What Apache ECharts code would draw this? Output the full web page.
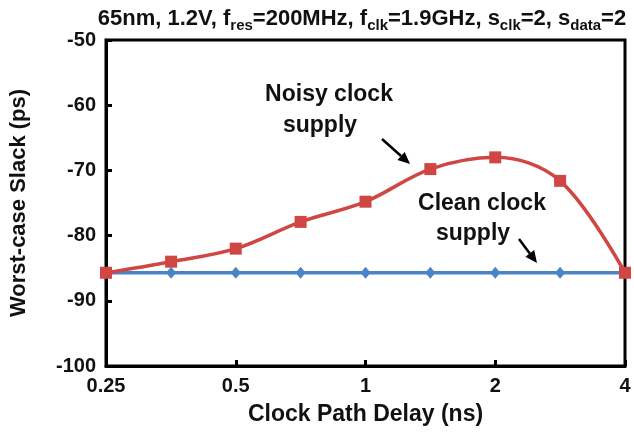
<!DOCTYPE html>
<html>
<head>
<meta charset="utf-8">
<script src="https://cdn.jsdelivr.net/npm/echarts@6/dist/echarts.min.js"></script>
<style>
  html, body { margin: 0; padding: 0; background: #fff; }
  #chart { width: 634px; height: 433px; }
</style>
</head>
<body>
<div id="chart"></div>
<script>
// Clock path delay (ns), half-octave steps on a base-2 log axis
const delays = [0.25, 0.354, 0.5, 0.707, 1, 1.414, 2, 2.828, 4];
// Worst-case slack (ps)
const noisySlack = [-85.7, -84.0, -82.0, -77.9, -74.8, -69.8, -68.0, -71.6, -85.7];
const cleanSlack = [-85.7, -85.7, -85.7, -85.7, -85.7, -85.7, -85.7, -85.7, -85.7];
// Axis ticks
const xTicks = [0.25, 0.5, 1, 2, 4];
const yTicks = [-100, -90, -80, -70, -60, -50];

const FONT = '"Liberation Sans", Arial, sans-serif';
const RED = '#cf4643';
const BLUE = '#4a84c6';

const chart = echarts.init(document.getElementById('chart'), null, { renderer: 'canvas' });

function pairs(xs, ys) { return xs.map((x, i) => [x, ys[i]]); }

// Arrow annotation helper (shaft + filled head)
function arrow(x1, y1, x2, y2) {
  const ang = Math.atan2(y2 - y1, x2 - x1);
  const L = 12, W = 5.5;
  const bx = x2 - L * Math.cos(ang), by = y2 - L * Math.sin(ang);
  const px = -Math.sin(ang) * W, py = Math.cos(ang) * W;
  return [
    { type: 'line', shape: { x1: x1, y1: y1, x2: bx, y2: by },
      style: { stroke: '#000', lineWidth: 2.5 }, z: 10 },
    { type: 'polygon', shape: { points: [[x2, y2], [bx + px, by + py], [bx - px, by - py]] },
      style: { fill: '#000' }, z: 10 }
  ];
}

function label(text, cx, cy) {
  return { type: 'text', x: cx, y: cy, z: 10,
    style: { text: text, font: 'bold 23px ' + FONT, fill: '#111', align: 'center', verticalAlign: 'middle' } };
}

const option = {
  backgroundColor: '#fff',
  animation: false,
  title: {
    text: '{n|65nm, 1.2V, f}{s|res}{n|=200MHz, f}{s|clk}{n|=1.9GHz, s}{s|clk}{n|=2, s}{s|data}{n|=2}',
    left: 357, top: 0, textAlign: 'center',
    textStyle: {
      rich: {
        n: { fontFamily: FONT, fontWeight: 'bold', fontSize: 22, color: '#111', lineHeight: 28, verticalAlign: 'middle' },
        s: { fontFamily: FONT, fontWeight: 'bold', fontSize: 15, color: '#111', lineHeight: 14, verticalAlign: 'bottom' }
      }
    }
  },
  grid: {
    left: 101, right: 9, top: 40, bottom: 67,
    show: true, borderColor: '#000', borderWidth: 3, backgroundColor: 'transparent'
  },
  xAxis: {
    type: 'log', logBase: 2,
    min: xTicks[0], max: xTicks[xTicks.length - 1],
    name: 'Clock Path Delay (ns)', nameLocation: 'middle', nameGap: 37,
    nameTextStyle: { fontFamily: FONT, fontWeight: 'bold', fontSize: 23, color: '#111' },
    axisLine: { show: true, lineStyle: { color: '#000', width: 3 } },
    axisTick: { show: true, inside: true, length: 6, lineStyle: { color: '#000', width: 3 } },
    axisLabel: {
      fontFamily: FONT, fontWeight: 'bold', fontSize: 20, color: '#111', margin: 10,
      formatter: v => { const t = xTicks.find(k => Math.abs(k - v) < 1e-6); return t === undefined ? '' : String(t); }
    },
    splitLine: { show: false }, minorTick: { show: false }
  },
  yAxis: {
    type: 'value', min: yTicks[0], max: yTicks[yTicks.length - 1], interval: 10,
    name: 'Worst-case Slack (ps)', nameLocation: 'middle', nameGap: 76, nameRotate: 90,
    nameTextStyle: { fontFamily: FONT, fontWeight: 'bold', fontSize: 22, color: '#111' },
    axisLine: { show: true, lineStyle: { color: '#000', width: 3 } },
    axisTick: { show: true, inside: true, length: 6, lineStyle: { color: '#000', width: 3 } },
    axisLabel: { fontFamily: FONT, fontWeight: 'bold', fontSize: 20, color: '#111', margin: 10 },
    splitLine: { show: false }
  },
  series: [
    {
      name: 'Clean clock supply', type: 'line', data: pairs(delays, cleanSlack),
      symbol: 'diamond', symbolSize: [10, 12], showAllSymbol: true,
      lineStyle: { color: BLUE, width: 3.5 }, itemStyle: { color: BLUE }, z: 3
    },
    {
      name: 'Noisy clock supply', type: 'line', data: pairs(delays, noisySlack),
      smooth: 0.35, symbol: 'rect', symbolSize: 12, showAllSymbol: true,
      lineStyle: { color: RED, width: 3.5 }, itemStyle: { color: RED }, z: 4
    }
  ],
  graphic: [
    label('Noisy clock', 329, 95),
    label('supply', 320, 126),
    ...arrow(382, 139, 410, 164),
    label('Clean clock', 482, 204),
    label('supply', 473, 234),
    ...arrow(519, 239, 537, 263)
  ]
};

chart.setOption(option);
</script>
</body>
</html>
